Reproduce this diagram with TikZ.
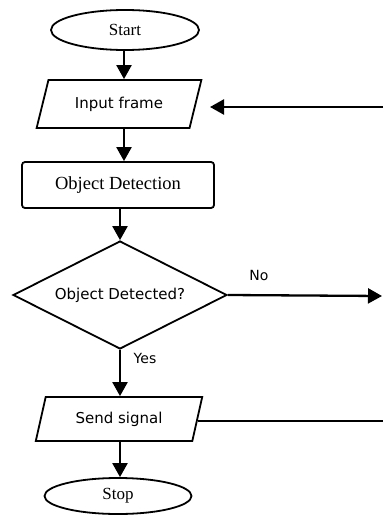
\documentclass[tikz,border=0pt]{standalone}
\usepackage{fontspec}
\setmainfont{Liberation Serif}
\newfontfamily\labelsans{DejaVu Sans}
\usetikzlibrary{shapes.geometric,arrows.meta}

\tikzset{
  every picture/.style={x=1pt,y=-1pt},
  outline/.style={draw=black,line width=1.8pt,inner sep=0pt},
  terminal/.style={outline,ellipse,font=\fontsize{17}{17}\selectfont},
  iobox/.style={outline,trapezium,trapezium stretches=true,
    trapezium left angle=63,trapezium right angle=117,
    font=\labelsans\fontsize{15}{15}\selectfont},
  procbox/.style={outline,rectangle,rounded corners=3pt,
    font=\fontsize{18.5}{18.5}\selectfont},
  decision/.style={outline,diamond,shape aspect=2,
    font=\labelsans\fontsize{15}{15}\selectfont},
  flow/.style={line width=2.3pt,-{Triangle[length=14pt,width=15pt]}},
  plain/.style={line width=1.8pt},
  edgelabel/.style={font=\labelsans\fontsize{14}{14}\selectfont}
}

\begin{document}
\begin{tikzpicture}
  \useasboundingbox (0,0) rectangle (383,516);

  % main column
  \node[terminal,minimum width=148pt,minimum height=40pt] (start) at (125,30) {Start};
  \node[iobox,minimum width=165pt,minimum height=48pt] (inp) at (119,104) {Input frame};
  \node[procbox,minimum width=192pt,minimum height=46pt] (detect) at (118,185) {Object Detection};
  \node[decision,minimum width=214pt,minimum height=108pt] (check) at (120,295) {Object Detected?};
  \node[iobox,minimum width=167pt,minimum height=44pt,
        trapezium left angle=68,trapezium right angle=112] (send) at (119,419) {Send signal};
  \node[terminal,minimum width=147pt,minimum height=36pt] (stop) at (118,496) {Stop};

  % free ends of the side connectors
  \coordinate (noEnd) at (382,296);
  \coordinate (loopIn) at (383,107);
  \coordinate (loopTip) at (210,107);
  \coordinate (loopOut) at (383,421);

  % vertical flow
  \draw[flow] (start.south -| 124,0) -- (inp.north -| 124,0);
  \draw[flow] (inp.south -| 124,0) -- (detect.north -| 124,0);
  \draw[flow] (detect.south -| check.north) -- (check.north);
  \draw[flow] (check.south) -- (send.north -| check.south);
  \draw[flow] (send.south -| check.south) -- (stop.north -| check.south);

  % branches
  \draw[flow] (check.east) -- (noEnd);
  \draw[flow] (loopIn) -- (loopTip);
  \draw[plain] (send.east |- loopOut) -- (loopOut);

  % branch labels
  \node[edgelabel] (nolbl) at (259,275) {No};
  \node[edgelabel] (yeslbl) at (145,358) {Yes};
\end{tikzpicture}
\end{document}
